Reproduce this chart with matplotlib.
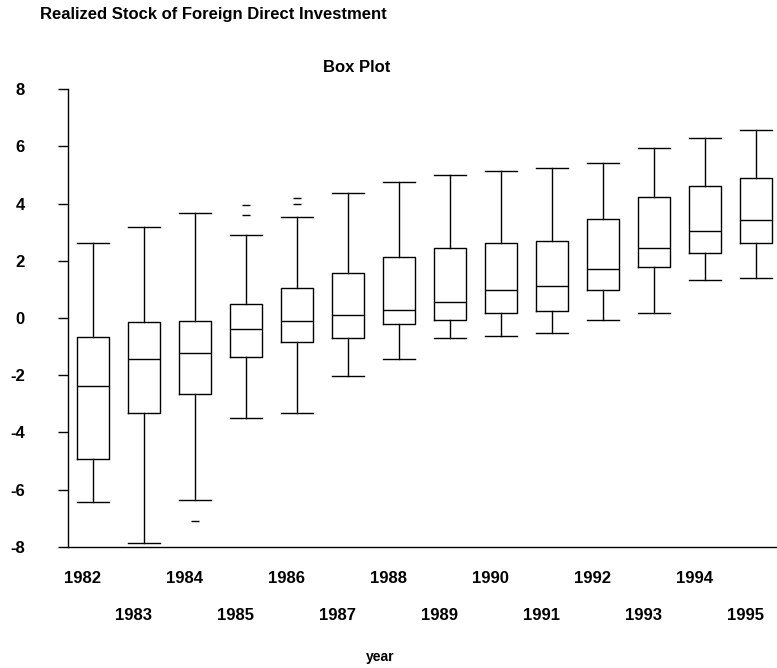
import matplotlib
matplotlib.use("Agg")
import matplotlib.pyplot as plt
from matplotlib.transforms import ScaledTranslation

plt.rcParams['font.family'] = ['Liberation Sans', 'DejaVu Sans']
plt.rcParams['axes.unicode_minus'] = False

# values
years = ['1982', '1983', '1984', '1985', '1986', '1987', '1988',
         '1989', '1990', '1991', '1992', '1993', '1994', '1995']
whis_hi = [2.61, 3.17, 3.66, 2.91, 3.52, 4.37, 4.76, 4.99, 5.15, 5.26, 5.41, 5.96, 6.31, 6.59]
q3 = [-0.66, -0.14, -0.10, 0.50, 1.04, 1.57, 2.13, 2.46, 2.63, 2.69, 3.47, 4.24, 4.61, 4.88]
median = [-2.37, -1.44, -1.23, -0.38, -0.10, 0.09, 0.28, 0.55, 0.97, 1.13, 1.71, 2.46, 3.05, 3.43]
q1 = [-4.92, -3.32, -2.65, -1.35, -0.84, -0.71, -0.22, -0.07, 0.19, 0.24, 0.98, 1.80, 2.29, 2.61]
whis_lo = [-6.45, -7.87, -6.38, -3.50, -3.32, -2.03, -1.43, -0.69, -0.62, -0.52, -0.07, 0.16, 1.33, 1.41]
outliers = [[], [], [-7.10], [3.95, 3.62], [4.21, 3.98], [], [], [], [], [], [], [], [], []]

stats = []
for i in range(len(years)):
    stats.append(dict(med=median[i], q1=q1[i], q3=q3[i],
                      whislo=whis_lo[i], whishi=whis_hi[i],
                      fliers=outliers[i], label=years[i]))

fig = plt.figure(figsize=(7.77, 6.68), dpi=100)
ax = fig.add_axes([68 / 777, 1 - 546.7 / 668, 1 - 68 / 777, (546.7 - 89.3) / 668])

pos = list(range(len(years)))
line = dict(color='black', linewidth=1.0)
ax.bxp(stats, positions=pos, widths=0.62, capwidths=0.62,
       boxprops=line, whiskerprops=line, capprops=line, medianprops=line,
       flierprops=dict(marker='_', markersize=6, markeredgecolor='black',
                       markeredgewidth=1.0, linestyle='none'))

ax.set_xlim(-0.496, 13.41)
ax.set_ylim(-8, 8)
ax.set_xticks([])
ax.set_yticks(range(-8, 9, 2))
ax.tick_params(axis='y', direction='out', length=7.2, width=1.0, pad=24,
               labelsize=12)
for lab in ax.get_yticklabels():
    lab.set_fontweight('bold')
    lab.set_horizontalalignment('right')

for side in ['top', 'right']:
    ax.spines[side].set_visible(False)
ax.spines['left'].set_linewidth(1.0)
ax.spines['bottom'].set_linewidth(1.0)

# staggered year labels under the axis
trans = ax.get_xaxis_transform()
for i, yr in enumerate(years):
    dy = -32 if i % 2 == 0 else -68.5
    off = ScaledTranslation(-10.5 / 100, dy / 100, fig.dpi_scale_trans)
    ax.text(i, 0, yr, transform=trans + off, ha='center', va='center',
            fontsize=12, fontweight='bold')

fig.text(40 / 777, 1 - 14.5 / 668, 'Realized Stock of Foreign Direct Investment',
         ha='left', va='center', fontsize=12, fontweight='bold')
fig.text(356.5 / 777, 1 - 67.5 / 668, 'Box Plot', ha='center', va='center',
         fontsize=12, fontweight='bold')
fig.text(380 / 777, 1 - 657 / 668, 'year', ha='center', va='center',
         fontsize=10, fontweight='bold')

fig.savefig('out.png', dpi=100)
